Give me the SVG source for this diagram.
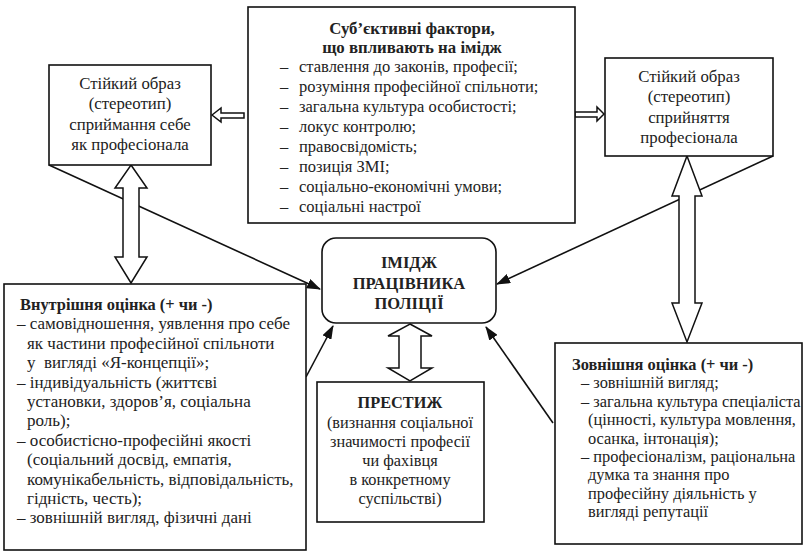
<svg xmlns="http://www.w3.org/2000/svg" width="804" height="552" viewBox="0 0 804 552">
<defs>
<style>
.box{fill:#fff;stroke:#111;stroke-width:1.6}
.blk{fill:#fff;stroke:#111;stroke-width:1.5;stroke-linejoin:miter}
.ln{stroke:#111;stroke-width:1.6;fill:none}
text{font-family:"Liberation Serif","Times New Roman","DejaVu Serif",serif;font-size:16.5px;fill:#222}
.b{font-weight:bold}
.c{text-anchor:middle}
.s17{font-size:17px}
.s168{font-size:16.8px}
.s164{font-size:16.4px}
.s163{font-size:16.3px}
</style>
<marker id="ah" markerUnits="userSpaceOnUse" markerWidth="14" markerHeight="10" refX="13" refY="5" orient="auto">
<path d="M0,0 L14,5 L0,10 Z" fill="#111"/>
</marker>
</defs>
<rect width="804" height="552" fill="#fff"/>

<g id="connectors">
<line class="ln" x1="49" y1="165" x2="320" y2="289" marker-end="url(#ah)"/>
<line class="ln" x1="773" y1="156" x2="497" y2="284" marker-end="url(#ah)"/>
<line class="ln" x1="306" y1="377" x2="333" y2="326" marker-end="url(#ah)"/>
<line class="ln" x1="553" y1="423" x2="486" y2="327" marker-end="url(#ah)"/>
<polygon class="blk" points="212,115 221,108 221,113 244,113 244,118 221,118 221,122"/>
<polygon class="blk" points="604,114 597,107 597,112 575,112 575,117 597,117 597,121"/>
<polygon class="blk" points="131,165 147,188 139,188 139,257 147,257 131,283 115,257 123,257 123,188 115,188"/>
<polygon class="blk" points="687,156 702,196 695,196 695,303 702,303 687,342 672,303 679,303 679,196 672,196"/>
<polygon class="blk" points="410,324 432,336 421,336 421,368 432,368 410,381 388,368 399,368 399,336 388,336"/>
</g>

<g id="factors">
<rect class="box" x="248" y="7" width="327" height="216"/>
<text class="b c s168" x="412" y="34">Суб’єктивні фактори,</text>
<text class="b c s168" x="412" y="53">що впливають на імідж</text>
<text x="280" y="72">–</text><text x="299" y="72">ставлення до законів, професії;</text>
<text x="280" y="92">–</text><text x="299" y="92">розуміння професійної спільноти;</text>
<text x="280" y="112">–</text><text x="299" y="112">загальна культура особистості;</text>
<text x="280" y="132">–</text><text x="299" y="132">локус контролю;</text>
<text x="280" y="152">–</text><text x="299" y="152">правосвідомість;</text>
<text x="280" y="172">–</text><text x="299" y="172">позиція ЗМІ;</text>
<text x="280" y="192">–</text><text x="299" y="192">соціально-економічні умови;</text>
<text x="280" y="212">–</text><text x="299" y="212">соціальні настрої</text>
</g>

<g id="self-image">
<rect class="box" x="49" y="65" width="162" height="100"/>
<text class="c s168" x="130" y="89">Стійкий образ</text>
<text class="c s168" x="130" y="109">(стереотип)</text>
<text class="c s168" x="130" y="130">сприймання себе</text>
<text class="c s168" x="130" y="150">як професіонала</text>
</g>

<g id="public-image">
<rect class="box" x="605" y="58" width="168" height="98"/>
<text class="c s168" x="689" y="82">Стійкий образ</text>
<text class="c s168" x="689" y="102">(стереотип)</text>
<text class="c s168" x="689" y="123">сприйняття</text>
<text class="c s168" x="689" y="143">професіонала</text>
</g>

<g id="image">
<rect class="box" x="322" y="238" width="174" height="85" rx="14"/>
<text class="b c" x="409" y="268">ІМІДЖ</text>
<text class="b c" x="409" y="289">ПРАЦІВНИКА</text>
<text class="b c" x="409" y="309">ПОЛІЦІЇ</text>
</g>

<g id="prestige">
<rect class="box" x="317" y="382" width="167" height="140"/>
<text class="b c s163" x="400" y="408">ПРЕСТИЖ</text>
<text class="c s163" x="400" y="428">(визнання соціальної</text>
<text class="c s163" x="400" y="447">значимості професії</text>
<text class="c s163" x="400" y="466">чи фахівця</text>
<text class="c s163" x="400" y="485">в конкретному</text>
<text class="c s163" x="400" y="504">суспільстві)</text>
</g>

<g id="internal">
<rect class="box" x="4" y="284" width="302" height="266"/>
<text class="b s164" x="20" y="310">Внутрішня оцінка (+ чи -)</text>
<text class="s17" x="17" y="329">– самовідношення, уявлення про себе</text>
<text class="s17" x="27" y="349">як частини професійної спільноти</text>
<text class="s17" x="27" y="368" xml:space="preserve">у  вигляді «Я-концепції»;</text>
<text class="s17" x="17" y="388">– індивідуальність (життєві</text>
<text class="s17" x="27" y="407">установки, здоров’я, соціальна</text>
<text class="s17" x="27" y="426">роль);</text>
<text class="s17" x="17" y="446">– особистісно-професійні якості</text>
<text class="s17" x="27" y="465">(соціальний досвід, емпатія,</text>
<text class="s17" x="27" y="485">комунікабельність, відповідальність,</text>
<text class="s17" x="27" y="504">гідність, честь);</text>
<text class="s17" x="17" y="523">– зовнішній вигляд, фізичні дані</text>
</g>

<g id="external">
<rect class="box" x="555" y="343" width="247" height="201"/>
<text class="b s164" x="572" y="370">Зовнішня оцінка (+ чи -)</text>
<text class="s164" x="581" y="388">– зовнішній вигляд;</text>
<text class="s164" x="581" y="407">– загальна культура спеціаліста</text>
<text class="s164" x="588" y="425">(цінності, культура мовлення,</text>
<text class="s164" x="588" y="444">осанка, інтонація);</text>
<text class="s164" x="581" y="462">– професіоналізм, раціональна</text>
<text class="s164" x="588" y="480">думка та знання про</text>
<text class="s164" x="588" y="499">професійну діяльність у</text>
<text class="s164" x="588" y="517">вигляді репутації</text>
</g>
</svg>
